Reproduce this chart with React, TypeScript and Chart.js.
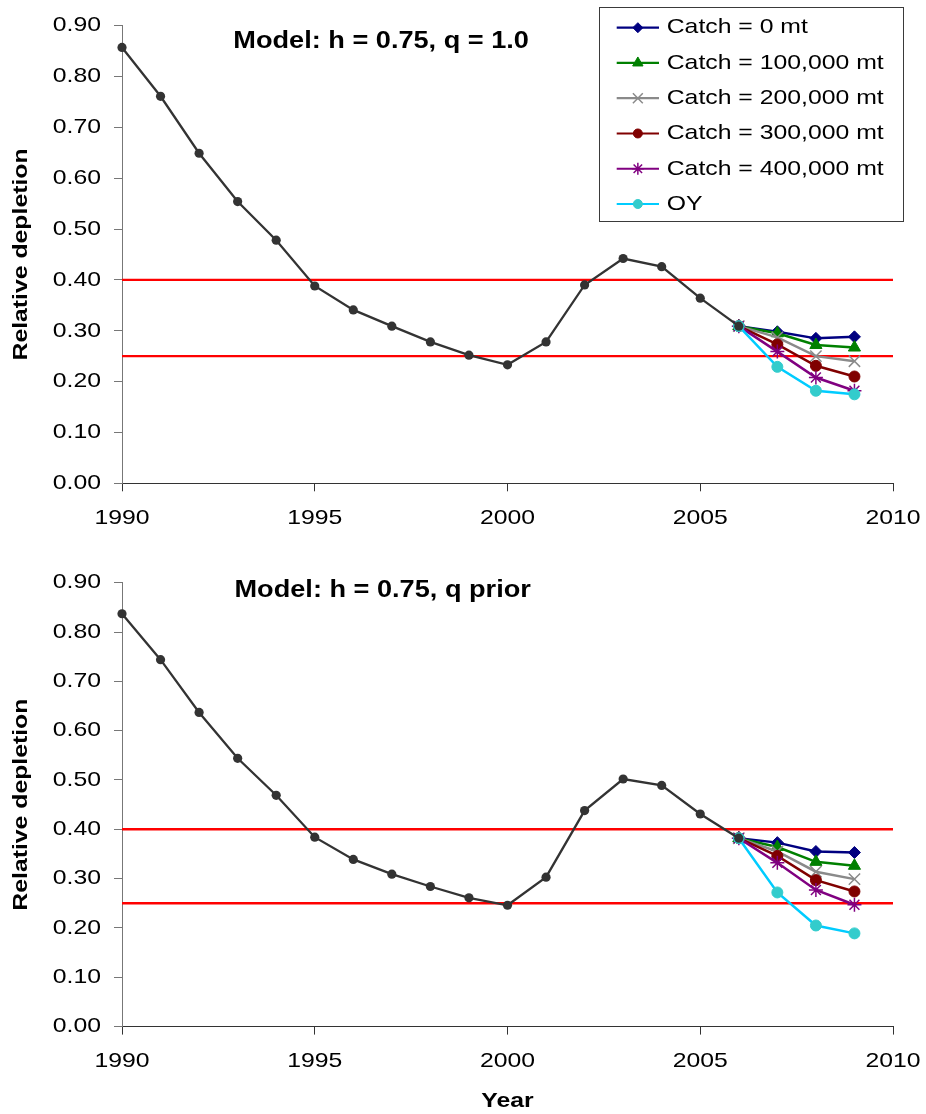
import React, { useEffect, useRef } from 'react';
import { Chart, registerables } from 'chart.js';
import { drawPoint } from 'chart.js/helpers';

Chart.register(...registerables);

// ---------- data ----------
const histYears = [1990, 1991, 1992, 1993, 1994, 1995, 1996, 1997, 1998, 1999, 2000, 2001, 2002, 2003, 2004, 2005, 2006];
const histTop = [0.857, 0.761, 0.649, 0.554, 0.478, 0.388, 0.341, 0.309, 0.278, 0.252, 0.233, 0.278, 0.390, 0.442, 0.426, 0.364, 0.309];
const histBottom = [0.837, 0.744, 0.637, 0.544, 0.469, 0.384, 0.339, 0.309, 0.284, 0.261, 0.246, 0.303, 0.438, 0.502, 0.489, 0.431, 0.382];

const projYears = [2006, 2007, 2008, 2009];
const seriesNames = ['Catch = 0 mt', 'Catch = 100,000 mt', 'Catch = 200,000 mt', 'Catch = 300,000 mt', 'Catch = 400,000 mt', 'OY'];

const catch0Top = [0.309, 0.298, 0.285, 0.288];
const catch100Top = [0.309, 0.295, 0.272, 0.267];
const catch200Top = [0.309, 0.287, 0.250, 0.240];
const catch300Top = [0.309, 0.273, 0.231, 0.210];
const catch400Top = [0.309, 0.259, 0.208, 0.182];
const oyTop = [0.309, 0.229, 0.182, 0.175];

const catch0Bottom = [0.382, 0.373, 0.355, 0.353];
const catch100Bottom = [0.382, 0.364, 0.334, 0.326];
const catch200Bottom = [0.382, 0.355, 0.314, 0.299];
const catch300Bottom = [0.382, 0.346, 0.297, 0.274];
const catch400Bottom = [0.382, 0.332, 0.277, 0.247];
const oyBottom = [0.382, 0.272, 0.205, 0.189];

const refLevels = [0.40, 0.25];
const xLimits = [1990, 2010];
const xStep = 5;
const yLimits = [0, 0.9];
const yStep = 0.1;
const chartTitles = ['Model: h = 0.75, q = 1.0', 'Model: h = 0.75, q prior'];
const yAxisTitle = 'Relative depletion';
const xAxisTitle = 'Year';

// ---------- styles ----------
const FONT = "'Liberation Sans', Arial, Helvetica, sans-serif";
const TEXT_STRETCH = 1.18;

const seriesStyles = [
  { line: '#000080', fill: '#000080', edge: '#000080', marker: 'rectRot', radius: 6, edgeWidth: 1, legendRadius: 5 },
  { line: '#008000', fill: '#008000', edge: '#008000', marker: 'triangle', radius: 7, edgeWidth: 1, legendRadius: 6 },
  { line: '#8a8a8a', fill: '#8a8a8a', edge: '#8a8a8a', marker: 'crossRot', radius: 8, edgeWidth: 1.5, legendRadius: 7 },
  { line: '#800000', fill: '#800000', edge: '#800000', marker: 'circle', radius: 5.5, edgeWidth: 1, legendRadius: 4.5 },
  { line: '#800080', fill: '#800080', edge: '#800080', marker: 'star', radius: 7, edgeWidth: 1.5, legendRadius: 6 },
  { line: '#00CCFF', fill: '#33CCCC', edge: '#33CCCC', marker: 'circle', radius: 5.5, edgeWidth: 1, legendRadius: 4.5 },
];

function stretchText(ctx: any, sx: number) {
  if (ctx.__stretched) return;
  ctx.__stretched = true;
  const orig = ctx.fillText.bind(ctx);
  ctx.fillText = (text: string, x: number, y: number, maxWidth?: number) => {
    ctx.save();
    ctx.translate(x, y);
    ctx.scale(sx, 1);
    if (maxWidth !== undefined && maxWidth !== null) orig(text, 0, 0, maxWidth / sx);
    else orig(text, 0, 0);
    ctx.restore();
  };
}

const boxLegendPlugin = {
  id: 'boxLegend',
  afterDraw(chart: any, _args: any, opts: any) {
    if (!opts || !opts.display) return;
    const ctx = chart.ctx;
    ctx.save();
    ctx.fillStyle = '#ffffff';
    ctx.fillRect(opts.x, opts.y, opts.w, opts.h);
    ctx.strokeStyle = '#3a3a3a';
    ctx.lineWidth = 1;
    ctx.strokeRect(opts.x, opts.y, opts.w, opts.h);
    const items = chart.data.datasets
      .filter((d: any) => d.legendOrder !== undefined)
      .sort((a: any, b: any) => a.legendOrder - b.legendOrder);
    items.forEach((d: any, i: number) => {
      const cy = opts.firstRowY + i * opts.rowGap;
      ctx.strokeStyle = d.borderColor;
      ctx.lineWidth = 2.2;
      ctx.beginPath();
      ctx.moveTo(opts.lineX0, cy);
      ctx.lineTo(opts.lineX1, cy);
      ctx.stroke();
      ctx.fillStyle = d.pointBackgroundColor;
      ctx.strokeStyle = d.pointBorderColor;
      ctx.lineWidth = d.pointBorderWidth;
      drawPoint(ctx, { pointStyle: d.pointStyle, rotation: 0, radius: d.legendRadius, borderWidth: d.pointBorderWidth } as any,
        (opts.lineX0 + opts.lineX1) / 2, cy);
      ctx.fillStyle = '#000000';
      ctx.font = `21px ${FONT}`;
      ctx.textAlign = 'left';
      ctx.textBaseline = 'middle';
      ctx.fillText(d.label, opts.textX, cy);
    });
    ctx.restore();
  },
};

const modelTitlePlugin = {
  id: 'modelTitle',
  afterDraw(chart: any, _args: any, opts: any) {
    if (!opts || !opts.text) return;
    const ctx = chart.ctx;
    ctx.save();
    ctx.fillStyle = '#000000';
    ctx.font = `bold 23px ${FONT}`;
    ctx.textAlign = 'left';
    ctx.textBaseline = 'alphabetic';
    ctx.fillText(opts.text, opts.x, opts.y);
    ctx.restore();
  },
};

function buildChart(canvas: HTMLCanvasElement, p: any) {
  const ctx = canvas.getContext('2d') as any;
  stretchText(ctx, TEXT_STRETCH);

  const hist = {
    label: 'hist',
    data: histYears.map((yr, j) => ({ x: yr, y: p.hist[j] })),
    borderColor: '#333333',
    borderWidth: 2.3,
    pointStyle: 'circle',
    pointRadius: 4.6,
    pointBackgroundColor: '#333333',
    pointBorderColor: '#333333',
    pointBorderWidth: 0,
    tension: 0,
    clip: false,
  };

  const proj = seriesNames.map((name, i) => {
    const s = seriesStyles[i];
    return {
      label: name,
      legendOrder: i,
      legendRadius: s.legendRadius,
      data: projYears.map((yr, j) => ({ x: yr, y: p.proj[i][j] })),
      borderColor: s.line,
      borderWidth: 2.5,
      pointStyle: s.marker,
      pointRadius: s.radius,
      pointBackgroundColor: s.fill,
      pointBorderColor: s.edge,
      pointBorderWidth: s.edgeWidth,
      tension: 0,
      clip: false,
    };
  });

  const refs = refLevels.map((lv) => ({
    label: 'ref',
    data: xLimits.map((yr) => ({ x: yr, y: lv })),
    borderColor: '#FF0000',
    borderWidth: 2.4,
    pointRadius: 0,
    tension: 0,
    clip: false,
  }));

  const datasets = [hist, ...proj.slice().reverse(), ...refs];

  return new Chart(ctx, {
    type: 'line',
    data: { datasets: datasets as any },
    plugins: [boxLegendPlugin as any, modelTitlePlugin as any],
    options: {
      responsive: false,
      animation: false,
      events: [],
      layout: { padding: { left: 0, right: 33, top: p.padTop, bottom: 0 } },
      plugins: {
        legend: { display: false },
        tooltip: { enabled: false },
        boxLegend: p.legend,
        modelTitle: p.title,
      } as any,
      scales: {
        x: {
          type: 'linear',
          min: xLimits[0],
          max: xLimits[1],
          afterFit: (s: any) => {
            s.height = p.xAxisHeight;
            s.paddingLeft = 0;
            s.paddingRight = 0;
          },
          ticks: {
            stepSize: xStep,
            callback: (v: any) => String(v),
            color: '#000000',
            font: { family: FONT, size: 21 },
            padding: 14,
            maxRotation: 0,
            autoSkip: false,
          },
          grid: { drawOnChartArea: false, drawTicks: true, tickLength: 8, color: '#333333' },
          border: { display: true, color: '#333333', width: 1 },
          title: {
            display: !!p.xTitle,
            text: p.xTitle || '',
            color: '#000000',
            font: { family: FONT, size: 21, weight: 'bold' },
            padding: { top: 0, bottom: 0.6 },
          },
        },
        y: {
          type: 'linear',
          min: yLimits[0],
          max: yLimits[1],
          afterFit: (s: any) => { s.width = 122; },
          ticks: {
            stepSize: yStep,
            callback: (v: any) => Number(v).toFixed(2),
            color: '#000000',
            font: { family: FONT, size: 21 },
            padding: 13,
          },
          grid: { drawOnChartArea: false, drawTicks: true, tickLength: 8, color: '#777777' },
          border: { display: true, color: '#777777', width: 1 },
          title: {
            display: true,
            text: yAxisTitle,
            color: '#000000',
            font: { family: FONT, size: 21, weight: 'bold' },
            padding: { top: 8.2, bottom: 0 },
          },
        },
      } as any,
    },
  });
}

export default function App() {
  const topRef = useRef<HTMLCanvasElement>(null);
  const botRef = useRef<HTMLCanvasElement>(null);

  useEffect(() => {
    const c1 = buildChart(topRef.current as HTMLCanvasElement, {
      hist: histTop,
      proj: [catch0Top, catch100Top, catch200Top, catch300Top, catch400Top, oyTop],
      padTop: 25.5,
      xAxisHeight: 61.7,
      title: { text: chartTitles[0], x: 233.3, y: 48.3 },
      legend: { display: true, x: 599.5, y: 7.5, w: 304, h: 214, firstRowY: 27.7, rowGap: 35.26, lineX0: 616.7, lineX1: 659, textX: 666.7 },
      xTitle: '',
    });
    const c2 = buildChart(botRef.current as HTMLCanvasElement, {
      hist: histBottom,
      proj: [catch0Bottom, catch100Bottom, catch200Bottom, catch300Bottom, catch400Bottom, oyBottom],
      padTop: 37.7,
      xAxisHeight: 87.4,
      title: { text: chartTitles[1], x: 234.5, y: 52.3 },
      legend: { display: false },
      xTitle: xAxisTitle,
    });
    return () => {
      c1.destroy();
      c2.destroy();
    };
  }, []);

  return (
    <div style={{ position: 'absolute', left: 0, top: 0, width: 926, height: 1114, background: '#ffffff' }}>
      <canvas ref={topRef} width={926} height={545} style={{ position: 'absolute', left: 0, top: 0, display: 'block' }} />
      <canvas ref={botRef} width={926} height={569} style={{ position: 'absolute', left: 0, top: 545, display: 'block' }} />
    </div>
  );
}
